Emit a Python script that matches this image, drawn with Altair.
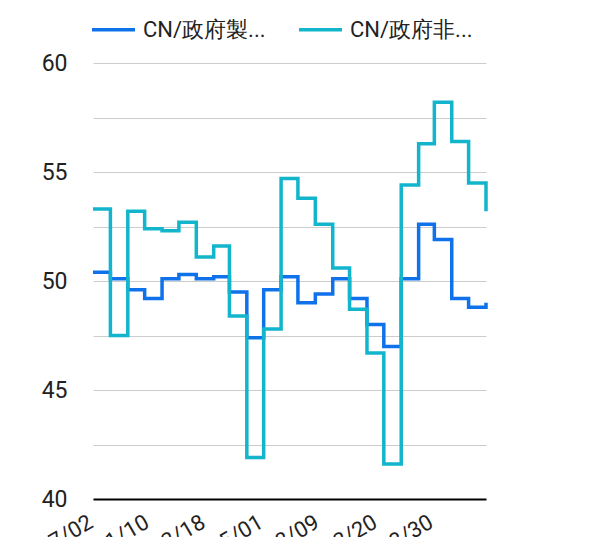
import altair as alt
import pandas as pd

MONTHS = [
    "2021/07/01", "2021/08/01", "2021/09/01", "2021/10/01", "2021/11/01", "2021/12/01",
    "2022/01/01", "2022/02/01", "2022/03/01", "2022/04/01", "2022/05/01", "2022/06/01",
    "2022/07/01", "2022/08/01", "2022/09/01", "2022/10/01", "2022/11/01", "2022/12/01",
    "2023/01/01", "2023/02/01", "2023/03/01", "2023/04/01", "2023/05/01", "2023/06/01",
]
SERIES = ["CN/政府製造業PMI", "CN/政府非製造業PMI"]
MANUF = [50.4, 50.1, 49.6, 49.2, 50.1, 50.3, 50.1, 50.2, 49.5, 47.4, 49.6, 50.2,
         49.0, 49.4, 50.1, 49.2, 48.0, 47.0, 50.1, 52.6, 51.9, 49.2, 48.8, 49.0]
NONMANUF = [53.3, 47.5, 53.2, 52.4, 52.3, 52.7, 51.1, 51.6, 48.4, 41.9, 47.8, 54.7,
            53.8, 52.6, 50.6, 48.7, 46.7, 41.6, 54.4, 56.3, 58.2, 56.4, 54.5, 53.2]
COLORS = ["#0f72ea", "#12b5cb"]
Y_TICKS = [40, 42.5, 45, 47.5, 50, 52.5, 55, 57.5, 60]
X_TICK_DATES = ["2021-07-02", "2021-10-10", "2022-01-18", "2022-05-01",
                "2022-08-09", "2022-11-20", "2023-02-28"]
X_TICK_LABELS = ["2021/07/02", "2021/11/10", "2022/02/18", "2022/05/01",
                 "2022/08/09", "2022/12/20", "2023/03/30"]

df = pd.DataFrame({
    "date": MONTHS * 2,
    "series": [SERIES[0]] * len(MONTHS) + [SERIES[1]] * len(MONTHS),
    "value": MANUF + NONMANUF,
})

tick_values = []
for d in X_TICK_DATES:
    y, m, dd = (int(p) for p in d.split("-"))
    tick_values.append(alt.DateTime(year=y, month=m, date=dd))

expr = ""
for d, lab in zip(X_TICK_DATES, X_TICK_LABELS):
    expr += f"timeFormat(datum.value, '%Y-%m-%d') == '{d}' ? '{lab}' : "
expr += "''"

FONT = "Roboto"

chart = alt.Chart(df).mark_line(interpolate="step-after", strokeWidth=3.5).encode(
    x=alt.X(
        "date:T",
        scale=alt.Scale(nice=False, padding=0),
        axis=alt.Axis(
            values=tick_values,
            labelExpr=expr,
            labelAngle=330,
            labelAlign="right",
            labelBaseline="middle",
            labelFontSize=22,
            labelFont=FONT,
            labelColor="#222222",
            labelPadding=21,
            labelOffset=-3,
            labelOverlap=False,
            labelFlush=False,
            grid=False,
            ticks=False,
            domainColor="#000000",
            domainWidth=2,
            title=None,
        ),
    ),
    y=alt.Y(
        "value:Q",
        scale=alt.Scale(domain=[40, 60], nice=False, zero=False),
        axis=alt.Axis(
            values=Y_TICKS,
            labelExpr="datum.value % 5 == 0 ? datum.label : ''",
            labelFontSize=23,
            labelFont=FONT,
            labelColor="#222222",
            labelPadding=26,
            grid=True,
            gridColor="#cccccc",
            gridWidth=1,
            domain=False,
            ticks=False,
            title=None,
        ),
    ),
    color=alt.Color(
        "series:N",
        scale=alt.Scale(domain=SERIES, range=COLORS),
        legend=alt.Legend(
            orient="none",
            legendX=-3,
            legendY=-57,
            direction="horizontal",
            title=None,
            symbolType="stroke",
            symbolSize=1849,
            symbolStrokeWidth=3.5,
            labelFontSize=22,
            labelFont=FONT,
            labelColor="#222222",
            labelExpr="substring(datum.label, 0, 6) + '...'",
            labelLimit=300,
            labelOffset=6,
            columnPadding=26,
        ),
    ),
).properties(
    width=393,
    height=436,
    autosize=alt.AutoSizeParams(type="none"),
    padding={"left": 85, "top": 55, "right": 119, "bottom": 38},
).configure_view(stroke=None)

chart.save("out.html", embed_options={"renderer": "svg", "actions": False})
